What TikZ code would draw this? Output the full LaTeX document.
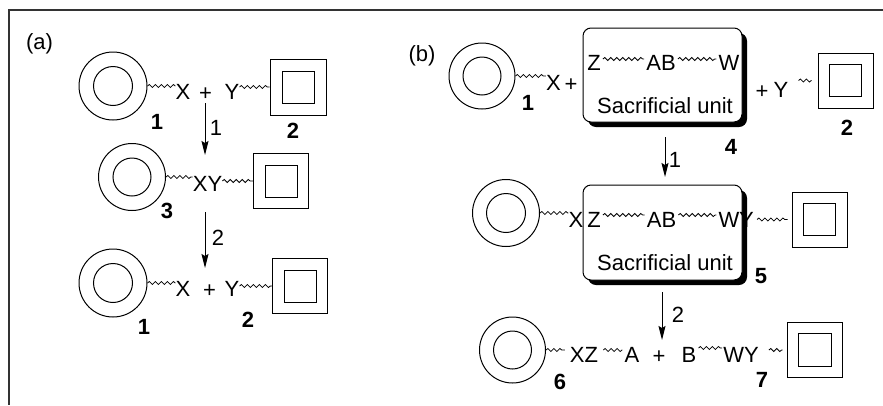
\documentclass[tikz,border=0pt]{standalone}
\usepackage{fontspec}
\setmainfont{Liberation Sans}
\usetikzlibrary{decorations.pathmorphing,shadows,arrows.meta,calc}
\newcommand{\Ring}[4]{\node[ring=#3] (#1) at (#2) {}; \draw[line width=1pt] (#1.center) circle[radius=#4];}
\newcommand{\Sq}[4]{\node[sq=#3] (#1) at (#2) {}; \draw[line width=1pt] ($(#1.center)+(-#4/2,-#4/2)$) rectangle ++(#4,#4);}
\begin{document}
\begin{tikzpicture}[x=1pt,y=-1pt,
  every node/.style={font=\fontsize{22}{26}\selectfont, inner sep=0pt, text=black},
  txt/.style={anchor=base},
  num/.style={font=\fontsize{22}{26}\selectfont\bfseries},
  ring/.style={circle, draw, line width=1pt, minimum size=#1},
  sq/.style={rectangle, draw, line width=1pt, minimum size=#1},
  wave/.style={decorate, decoration={snake, amplitude=1.5pt, segment length=6pt}, line width=0.8pt},
  arr/.style={-{Stealth[length=14pt,width=7pt,inset=2pt]}, line width=1pt},
  sbox/.style={draw, fill=white, rounded corners=8pt, line width=1pt, minimum width=159pt, minimum height=94pt,
    drop shadow={shadow xshift=5pt, shadow yshift=-5pt, opacity=1, fill=black}},
]
\useasboundingbox (0,0) rectangle (883,405);
\draw[line width=1.6pt, black!80] (883,10) -- (9,10) -- (9,405);

% ---------- panel (a) ----------
\node[txt] (la) at (39.5,49) {(a)};
% row 1
\Ring{c1}{113,86}{68pt}{19.5pt}
\node[txt] (x1) at (183,99) {X};
\node[txt] (p1) at (205.5,100) {+};
\node[txt] (y1) at (232,99) {Y};
\Sq{s2}{298,87}{56pt}{32}
\draw[wave] (c1.east) -- (c1.east -| x1.base west);
\draw[wave] (s2.west -| y1.base east) -- (s2.west);
\node[num] (n1) at (157,122) {1};
\node[num] (n2) at (293,131) {2};
\coordinate (a1s) at (205,103); \coordinate (a1e) at (205,155);
\draw[arr] (a1s) -- (a1e);
\node (l1) at (216,128) {1};
% row 2
\Ring{c3}{132,177}{67pt}{19pt}
\node[txt] (xy) at (207.5,191) {XY};
\Sq{s3}{281,181}{55pt}{32}
\draw[wave] (c3.east) -- (c3.east -| xy.base west);
\draw[wave] (s3.west -| xy.base east) -- (s3.west);
\node[num] (n3) at (167,211) {3};
\coordinate (a2s) at (205,212); \coordinate (a2e) at (205,268);
\draw[arr] (a2s) -- (a2e);
\node (l2) at (218,238) {2};
% row 3
\Ring{c1b}{113,283}{68pt}{19.5pt}
\node[txt] (x1b) at (183,296) {X};
\node[txt] (p1b) at (209.5,297) {+};
\node[txt] (y1b) at (232,296) {Y};
\Sq{s2b}{300,286}{55pt}{32}
\draw[wave] (c1b.east) -- (c1b.east -| x1b.base west);
\draw[wave] (s2b.west -| y1b.base east) -- (s2b.west);
\node[num] (n1b) at (144,327) {1};
\node[num] (n2b) at (248,320) {2};

% ---------- panel (b) ----------
\node[txt] (lb) at (422,61) {(b)};
% row 1
\Ring{c1c}{482,76}{66pt}{19pt}
\node[txt] (x4) at (553.5,90) {X};
\node[txt] (p4) at (571,91) {+};
\draw[wave] (c1c.east) -- (c1c.east -| x4.base west);
\node[sbox] (box4) at (662.5,75) {};
\node[txt] (z4) at (594,70) {Z};
\node[txt] (ab4) at (661,70) {AB};
\node[txt] (w4) at (729,70) {W};
\draw[wave] ($(z4.base east)+(2,-11)$) -- ($(ab4.base west)+(-2,-11)$);
\draw[wave] ($(ab4.base east)+(2,-11)$) -- ($(w4.base west)+(-2,-11)$);
\node[txt] (su4) at (665,113) {Sacrificial unit};
\node[txt] (p4b) at (762,98) {+};
\node[txt] (y4) at (781,97) {Y};
\Sq{s2c}{845.5,80.5}{55pt}{32}
\draw[wave] ($(y4.base east |- s2c.west)+(10,0)$) -- ($(s2c.west)+(-6,0)$);
\node[num] (n1c) at (528,103) {1};
\node[num] (n2c) at (847,128) {2};
\node[num] (n4) at (731,147) {4};
\coordinate (b1s) at (665,137); \coordinate (b1e) at (665,177);
\draw[arr] (b1s) -- (b1e);
\node (lb1) at (675,160) {1};
% row 2
\Ring{c1d}{506,213}{67pt}{19.5pt}
\node[sbox, minimum height=95pt] (box5) at (662.5,232.5) {};
\node[txt] (x5) at (576,227) {X};
\node[txt] (z5) at (594,227) {Z};
\node[txt] (ab5) at (661.5,227) {AB};
\node[txt] (w5) at (729,227) {W};
\node[txt] (y5) at (746.5,227) {Y};
\Sq{s5}{819.5,219.5}{55pt}{32}
\draw[wave] (c1d.east) -- (c1d.east -| x5.base west);
\draw[wave] ($(z5.base east)+(2,-12)$) -- ($(ab5.base west)+(-2,-12)$);
\draw[wave] ($(ab5.base east)+(2,-12)$) -- ($(w5.base west)+(-2,-12)$);
\draw[wave] ($(y5.base east |- s5.west)+(3,0)$) -- ($(s5.west)+(-4,0)$);
\node[txt] (su5) at (665,270) {Sacrificial unit};
\node[num] (n5) at (761,276) {5};
\coordinate (b2s) at (662,292); \coordinate (b2e) at (662,340);
\draw[arr] (b2s) -- (b2e);
\node (lb2) at (678,315) {2};
% row 3
\Ring{c6}{512.5,350}{66pt}{19pt}
\node[txt] (xz) at (584,362) {XZ};
\node[txt] (a6) at (632,362) {A};
\node[txt] (p6) at (659,363) {+};
\node[txt] (b6) at (689,362) {B};
\node[txt] (wy) at (741,362) {WY};
\Sq{s7}{814.5,350}{55pt}{33}
\draw[wave] (c6.east) -- ($(c6.east -| xz.base west)+(-5,0)$);
\draw[wave] ($(xz.base east)+(5,-12)$) -- ($(a6.base west)+(-2,-12)$);
\draw[wave] ($(b6.base east)+(2,-14)$) -- ($(wy.base west)+(-1,-14)$);
\draw[wave] ($(wy.base east |- s7.west)+(10,0)$) -- ($(s7.west)+(-4,0)$);
\node[num] (n6) at (560,382) {6};
\node[num] (n7) at (762,380) {7};
\end{tikzpicture}
\end{document}
